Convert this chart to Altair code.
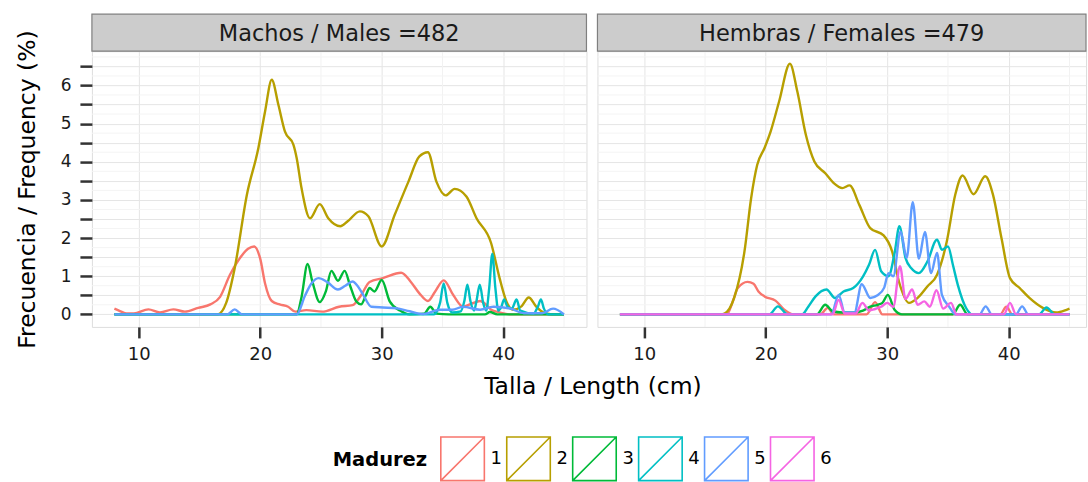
import altair as alt
import pandas as pd

FONT = "DejaVu Sans"

madurez_levels = ["1", "2", "3", "4", "5", "6"]
colors = ["#F8766D", "#B79F00", "#00BA38", "#00BFC4", "#619CFF", "#F564E3"]
strip_labels = ["Machos / Males =482", "Hembras / Females =479"]
sexes = ["Machos", "Hembras"]
x_ticks = [10, 20, 30, 40]
x_minor = [15, 25, 35, 45]
y_ticks = [0, 0.5, 1, 1.5, 2, 2.5, 3, 3.5, 4, 4.5, 5, 5.5, 6, 6.5]
y_minor = [0.25, 0.75, 1.25, 1.75, 2.25, 2.75, 3.25, 3.75, 4.25, 4.75, 5.25, 5.75, 6.25, 6.75]

# ---- Machos / Males (talla cm, frecuencia %) ----
m1 = [(8, 0.15), (8.5, 0.08), (9.0, 0.02), (9.6, 0.02), (10.8, 0.13), (11.75, 0.05), (12.85, 0.13),
      (13.8, 0.07), (14.9, 0.17), (15.9, 0.26), (16.7, 0.46), (17.5, 1.03), (18.3, 1.46), (19.0, 1.72),
      (19.5, 1.78), (20.0, 1.46), (20.4, 0.81), (20.95, 0.35), (21.6, 0.26), (22.3, 0.2), (22.9, 0.07),
      (23.8, 0.11), (25.1, 0.07), (26.5, 0.2), (27.6, 0.24), (28.3, 0.5), (29.0, 0.85), (30.1, 0.95),
      (31.6, 1.09), (32.4, 0.85), (33.1, 0.55), (33.8, 0.35), (34.4, 0.6), (35.1, 0.89), (35.9, 0.5),
      (36.7, 0.2), (37.4, 0.28), (38.1, 0.35), (38.6, 0.25), (39.0, 0.12), (39.7, 0.05), (40.5, 0), (45, 0)]
m2 = [(8, 0), (16.5, 0), (17.2, 0.3), (17.9, 1.21), (18.9, 3.13), (19.85, 4.36), (20.4, 5.32), (20.95, 6.15),
      (21.5, 5.49), (22.04, 4.79), (22.73, 4.45), (23.0, 4.1), (23.4, 3.31), (24.1, 2.52), (24.9, 2.89),
      (25.6, 2.52), (26.6, 2.31), (27.2, 2.44), (28.2, 2.70), (28.9, 2.57), (30.0, 1.78), (31.07, 2.61),
      (32.2, 3.48), (33.1, 4.14), (33.8, 4.25), (34.5, 3.48), (35.27, 3.12), (36.0, 3.29), (36.97, 3.09),
      (37.8, 2.52), (39.0, 1.87), (39.7, 0.95), (40.26, 0.34), (40.8, 0.12), (41.5, 0.21), (42.1, 0.44),
      (42.7, 0.21), (43.3, 0.05), (44, 0), (45, 0)]
m3 = [(8, 0), (23.0, 0), (23.4, 0.45), (23.9, 1.32), (24.3, 0.85), (24.9, 0.32), (25.4, 0.6), (25.86, 1.14),
      (26.4, 0.88), (26.95, 1.14), (27.4, 0.75), (27.9, 0.34), (28.3, 0.26), (28.7, 0.5), (29.0, 0.69),
      (29.4, 0.6), (30.0, 0.9), (30.66, 0.34), (31.5, 0.1), (32.3, 0), (33.5, 0.02), (34.0, 0.2), (34.5, 0.02),
      (35.5, 0), (38.5, 0), (38.9, 0.06), (39.5, 0), (45, 0)]
m4 = [(8, 0), (34.3, 0), (34.8, 0.3), (35.1, 0.81), (35.4, 0.3), (35.8, 0.05), (36.5, 0.08), (36.8, 0.35),
      (37.05, 0.78), (37.3, 0.35), (37.6, 0.1), (37.8, 0.35), (38.07, 0.78), (38.35, 0.3), (38.6, 0.1),
      (38.85, 0.7), (39.1, 1.59), (39.35, 0.7), (39.6, 0.1), (39.85, 0.2), (40.07, 0.39), (40.35, 0.2),
      (40.7, 0.15), (41.1, 0.39), (41.4, 0.1), (42.5, 0.02), (42.85, 0.2), (43.1, 0.39), (43.35, 0.15),
      (43.7, 0), (45, 0)]
m5 = [(8, 0), (17.3, 0), (17.9, 0.13), (18.5, 0), (23.0, 0), (23.7, 0.5), (24.2, 0.8), (24.8, 0.95),
      (25.5, 0.85), (26.4, 0.65), (27.0, 0.75), (27.6, 0.86), (28.0, 0.75), (28.46, 0.52), (29.15, 0.2),
      (30.1, 0.18), (31.2, 0.16), (32.3, 0.08), (33.4, 0.01), (34.8, 0.12), (35.8, 0.12), (36.7, 0.2),
      (38.1, 0.12), (39.2, 0.2), (40.6, 0.15), (41.7, 0.03), (43.2, 0.03), (44.1, 0.15), (45, 0)]

# ---- Hembras / Females ----
f1 = [(8, 0), (16.8, 0), (17.3, 0.35), (17.7, 0.69), (18.5, 0.85), (19.0, 0.8), (19.4, 0.6), (19.9, 0.47),
      (20.8, 0.36), (21.5, 0.13), (22.3, 0), (24.5, 0), (25.1, 0.17), (25.6, 0), (28.3, 0), (29.0, 0.32),
      (29.6, 0), (39.3, 0), (39.8, 0.2), (40.3, 0), (45, 0)]
f2 = [(8, 0), (16.3, 0), (16.6, 0.02), (17.4, 0.43), (18.25, 1.65), (18.8, 3.05), (19.3, 3.92), (19.9, 4.36),
      (20.4, 4.79), (21.1, 5.58), (21.99, 6.57), (22.6, 5.84), (23.3, 4.71), (24.0, 4.01), (24.9, 3.70),
      (25.6, 3.44), (26.3, 3.31), (26.9, 3.38), (27.7, 2.87), (28.6, 2.26), (29.7, 2.07), (30.4, 1.65),
      (30.96, 0.86), (31.8, 0.3), (32.5, 0.43), (33.3, 0.73), (34.1, 1.04), (34.9, 1.91), (35.6, 3.14),
      (36.2, 3.64), (37.1, 3.15), (38.06, 3.62), (38.7, 3.14), (39.4, 2.0), (40.1, 0.95), (40.9, 0.69),
      (41.7, 0.43), (42.8, 0.17), (43.9, 0.05), (44.75, 0.12), (45, 0.15)]
f3 = [(8, 0), (24.2, 0), (24.9, 0.25), (25.5, 0.08), (26.3, 0.05), (27.3, 0.05), (28.0, 0.1), (28.6, 0.2),
      (29.2, 0.25), (29.6, 0.3), (30.05, 0.51), (30.6, 0.12), (31.2, 0), (35.4, 0), (36.0, 0.25), (36.6, 0),
      (45, 0)]
f4 = [(8, 0), (20.3, 0), (21.0, 0.21), (21.8, 0), (23.0, 0), (23.5, 0.2), (24.1, 0.47), (25.0, 0.65),
      (25.7, 0.43), (26.4, 0.6), (27.2, 0.69), (28.0, 0.99), (28.5, 1.3), (29.0, 1.69), (29.5, 1.13),
      (30.1, 1.0), (30.6, 1.6), (31.0, 2.31), (31.5, 1.48), (32.0, 1.2), (32.6, 1.08), (33.3, 1.38),
      (34.1, 1.96), (34.5, 1.69), (35.0, 1.78), (35.4, 1.3), (35.8, 0.78), (36.5, 0.16), (37.0, 0),
      (42.5, 0), (43.1, 0.18), (43.8, 0), (45, 0)]
f5 = [(8, 0), (25.4, 0), (26.0, 0.51), (26.5, 0.05), (27.3, 0.05), (27.9, 0.79), (28.6, 0.43), (29.2, 0.5),
      (29.75, 0.7), (30.1, 1.08), (30.5, 1.0), (31.1, 2.17), (31.6, 1.48), (32.1, 2.94), (32.6, 1.46),
      (33.1, 2.16), (33.6, 1.08), (34.1, 1.61), (34.5, 0.51), (35.1, 0.2), (35.6, 0), (37.6, 0), (38.1, 0.21),
      (38.6, 0), (40.6, 0), (41.1, 0.21), (41.6, 0), (45, 0)]
f6 = [(8, 0), (25.5, 0), (26.0, 0.38), (26.5, 0.02), (27.4, 0.02), (27.95, 0.3), (28.5, 0.1), (29.0, 0.14),
      (29.5, 0.2), (30.0, 0.3), (30.5, 0.2), (31.05, 1.26), (31.5, 0.4), (32.05, 0.65), (32.5, 0.25),
      (33.05, 0.34), (33.5, 0.2), (34.05, 0.63), (34.6, 0.15), (35.25, 0.3), (35.7, 0), (39.6, 0),
      (40.1, 0.3), (40.6, 0), (45, 0)]

series = {
    "Machos": {"1": m1, "2": m2, "3": m3, "4": m4, "5": m5},
    "Hembras": {"1": f1, "2": f2, "3": f3, "4": f4, "5": f5, "6": f6},
}

rows = []
for sexo, groups in series.items():
    for mad in madurez_levels:
        if mad in groups:
            for i, (t, f) in enumerate(groups[mad]):
                rows.append({"sexo": sexo, "madurez": mad, "talla": t, "freq": f, "orden": i})
df = pd.DataFrame(rows)

PX_PER_CM = 495 / (46.85 - 6.15)
Y_SCALE = alt.Scale(domain=[-0.33, 6.9], nice=False, zero=False)
PANEL_H = 276
STRIP_H = 37

color_enc = alt.Color(
    "madurez:N",
    scale=alt.Scale(domain=madurez_levels, range=colors),
    legend=alt.Legend(
        title="Madurez", orient="none", legendX=241, legendY=385, direction="horizontal",
        titleOrient="left", titleFontSize=19.5, titleFontWeight="bold", titleColor="#000000",
        titleFont=FONT, titlePadding=12, titleBaseline="middle",
        symbolType="M-1,-1H1V1H-1Z M-1,1L1,-1", symbolSize=1900, symbolStrokeWidth=1.6,
        symbolFillColor="transparent", labelFontSize=18, labelFont=FONT, labelColor="#000000",
        labelOffset=5, columnPadding=1, symbolOpacity=1,
    ),
)


def panel(sexo, label, width, show_y, show_xtitle):
    xmax = 6.15 + width / PX_PER_CM
    x_scale = alt.Scale(domain=[6.15, xmax], nice=False, zero=False)
    x_axis = alt.Axis(
        values=x_ticks, grid=True, gridColor="#E5E5E5", domain=False, tickSize=11, tickWidth=2.5,
        tickColor="#333333", labelFontSize=18, labelColor="#1A1A1A", labelPadding=8, labelFont=FONT,
        title="Talla / Length (cm)" if show_xtitle else None,
        titleFontSize=23.5, titleFontWeight="normal", titleFont=FONT, titleColor="#000000",
        titleX=501, titleAlign="center", titlePadding=11,
    )
    if show_y:
        y_axis = alt.Axis(
            values=y_ticks, grid=True, gridColor="#E5E5E5", domain=False, tickSize=12, tickWidth=2.5,
            tickColor="#333333", labelFontSize=17, labelColor="#1A1A1A", labelPadding=9, labelFont=FONT,
            labelExpr="datum.value % 1 == 0 ? format(datum.value, 'd') : ''", labelOverlap=False,
            title="Frecuencia / Frequency (%)", titleFontSize=23.5, titleFontWeight="normal",
            titleFont=FONT, titleColor="#000000", titlePadding=21,
        )
    else:
        y_axis = alt.Axis(values=y_ticks, grid=True, gridColor="#E5E5E5", domain=False, ticks=False,
                          labels=False, title=None)

    strip_df = pd.DataFrame({"label": [label]})
    strip_box = alt.Chart(strip_df).mark_rect(
        fill="#CCCCCC", stroke="#7F7F7F", strokeWidth=1.2, clip=False
    ).encode(x=alt.value(0), x2=alt.value(width), y=alt.value(-STRIP_H), y2=alt.value(0))
    strip_text = alt.Chart(strip_df).mark_text(
        fontSize=22.5, font=FONT, color="#1A1A1A", baseline="middle", align="center", clip=False
    ).encode(text="label:N", x=alt.value(width / 2), y=alt.value(-STRIP_H / 2 + 1))

    ygrid = alt.Chart(pd.DataFrame({"freq": y_minor})).mark_rule(color="#F4F4F4", strokeWidth=1).encode(
        y=alt.Y("freq:Q", scale=Y_SCALE, axis=y_axis)
    )
    xgrid = alt.Chart(pd.DataFrame({"talla": x_minor})).mark_rule(color="#F2F2F2", strokeWidth=1).encode(
        x=alt.X("talla:Q", scale=x_scale, axis=x_axis)
    )
    lines = alt.Chart(df[df["sexo"] == sexo]).mark_line(
        interpolate="monotone", strokeWidth=2.4
    ).encode(
        x=alt.X("talla:Q", scale=x_scale, axis=x_axis),
        y=alt.Y("freq:Q", scale=Y_SCALE, axis=y_axis),
        color=color_enc,
        order=alt.Order("orden:Q"),
    )
    return alt.layer(xgrid, ygrid, lines, strip_box, strip_text).properties(width=width, height=PANEL_H)


W_LEFT = 495
W_RIGHT = 489

chart = alt.hconcat(
    panel("Machos", strip_labels[0], W_LEFT, True, True),
    panel("Hembras", strip_labels[1], W_RIGHT, False, False),
    spacing=11, bounds="flush",
).properties(
    padding={"left": 14, "top": 12, "right": 0, "bottom": 0}, background="#FFFFFF"
).configure_view(stroke="#7F7F7F", strokeWidth=1.2).configure(font=FONT)

chart.save("out.html", embed_options={"renderer": "svg", "actions": False})
